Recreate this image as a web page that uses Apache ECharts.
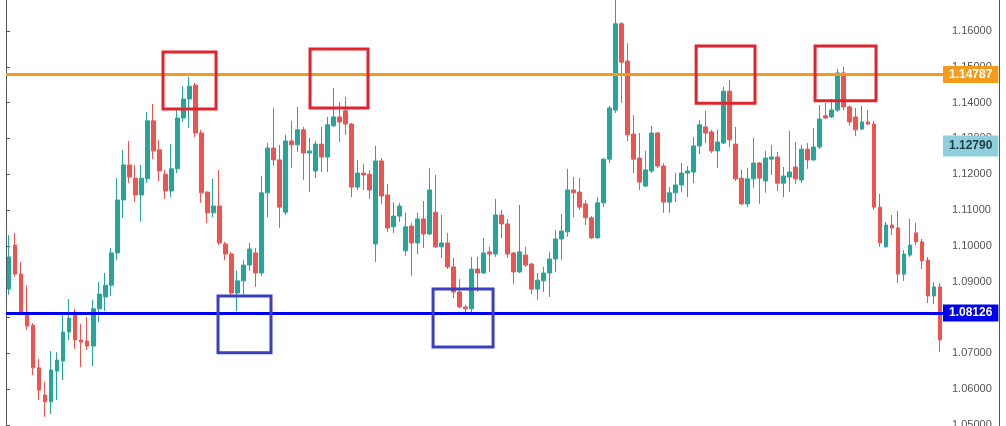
<!DOCTYPE html>
<html>
<head>
<meta charset="utf-8">
<script src="https://cdn.jsdelivr.net/npm/echarts@6/dist/echarts.min.js"></script>
<style>
  html, body { margin: 0; padding: 0; background: #ffffff; }
  #chart { width: 1006px; height: 426px; }
</style>
</head>
<body>
<div id="chart"></div>
<script>
// Candles: [open, close, low, high]
const ohlc = [
[1.0879,1.0969,1.0863,1.1030],[1.1002,1.0921,1.0913,1.1036],[1.0921,1.0812,1.0810,1.0955],[1.0812,1.0776,1.0765,1.0890],
[1.0778,1.0659,1.0639,1.0784],[1.0659,1.0597,1.0569,1.0684],[1.0583,1.0564,1.0522,1.0620],[1.0564,1.0653,1.0530,1.0706],
[1.0650,1.0681,1.0569,1.0703],[1.0678,1.0759,1.0625,1.0815],[1.0759,1.0798,1.0737,1.0851],[1.0815,1.0737,1.0712,1.0824],
[1.0737,1.0731,1.0661,1.0782],[1.0734,1.0720,1.0709,1.0801],[1.0720,1.0824,1.0664,1.0849],[1.0824,1.0865,1.0787,1.0899],
[1.0857,1.0890,1.0818,1.0924],[1.0890,1.0980,1.0860,1.0994],[1.0980,1.1128,1.0960,1.1189],[1.1128,1.1226,1.1078,1.1268],
[1.1226,1.1192,1.1175,1.1293],[1.1189,1.1142,1.1122,1.1226],[1.1142,1.1189,1.1067,1.1226],[1.1187,1.1349,1.1175,1.1374],
[1.1349,1.1265,1.1242,1.1396],[1.1268,1.1209,1.1181,1.1296],[1.1200,1.1153,1.1131,1.1212],[1.1153,1.1215,1.1136,1.1284],
[1.1215,1.1357,1.1203,1.1379],[1.1357,1.1410,1.1346,1.1446],[1.1410,1.1446,1.1329,1.1472],[1.1449,1.1315,1.1304,1.1455],
[1.1315,1.1148,1.1120,1.1324],[1.1150,1.1092,1.1064,1.1153],[1.1092,1.1111,1.1080,1.1187],[1.1111,1.1008,1.1002,1.1212],
[1.1005,1.0977,1.0960,1.1011],[1.0977,1.0868,1.0863,1.0983],[1.0868,1.0902,1.0818,1.0930],[1.0902,1.0946,1.0863,1.0960],
[1.0946,1.0991,1.0930,1.1008],[1.0980,1.0924,1.0885,1.0994],[1.0924,1.1148,1.0916,1.1195],[1.1148,1.1273,1.1080,1.1287],
[1.1273,1.1240,1.1223,1.1385],[1.1240,1.1108,1.1050,1.1282],[1.1094,1.1293,1.1086,1.1310],[1.1293,1.1282,1.1217,1.1349],
[1.1282,1.1324,1.1262,1.1388],[1.1324,1.1259,1.1184,1.1332],[1.1259,1.1265,1.1150,1.1301],[1.1209,1.1284,1.1189,1.1293],
[1.1284,1.1248,1.1206,1.1332],[1.1248,1.1338,1.1206,1.1360],[1.1335,1.1360,1.1332,1.1441],[1.1360,1.1346,1.1290,1.1402],
[1.1377,1.1340,1.1310,1.1416],[1.1340,1.1164,1.1136,1.1343],[1.1164,1.1203,1.1156,1.1240],[1.1203,1.1198,1.1156,1.1229],
[1.1200,1.1156,1.1131,1.1212],[1.1005,1.1237,1.0955,1.1279],[1.1237,1.1139,1.1117,1.1245],[1.1142,1.1050,1.1039,1.1173],
[1.1053,1.1083,1.1036,1.1122],[1.1083,1.1111,1.1067,1.1120],[1.0986,1.1053,1.0972,1.1092],[1.1055,1.1008,1.0916,1.1064],
[1.1008,1.1075,1.0977,1.1092],[1.1075,1.1033,1.0994,1.1125],[1.1033,1.1156,1.1030,1.1217],[1.1094,1.0997,1.0994,1.1198],
[1.0997,1.1008,1.0966,1.1086],[1.1008,1.0941,1.0935,1.1036],[1.0941,1.0871,1.0854,1.0966],[1.0871,1.0829,1.0826,1.0907],
[1.0829,1.0824,1.0812,1.0835],[1.0824,1.0935,1.0815,1.0969],[1.0935,1.0924,1.0871,1.0969],[1.0924,1.0980,1.0922,1.1022],
[1.0983,1.0977,1.0927,1.0997],[1.0977,1.1086,1.0969,1.1131],[1.1086,1.1061,1.1022,1.1100],[1.1061,1.0977,1.0966,1.1075],
[1.0980,1.0927,1.0893,1.0983],[1.0927,1.0983,1.0924,1.1114],[1.0974,1.0946,1.0941,1.0997],[1.0949,1.0879,1.0865,1.0952],
[1.0879,1.0904,1.0849,1.0924],[1.0902,1.0924,1.0871,1.0941],[1.0924,1.0963,1.0857,1.0983],[1.0963,1.1019,1.0927,1.1044],
[1.1019,1.1041,1.0960,1.1089],[1.1039,1.1156,1.1025,1.1215],[1.1156,1.1148,1.1080,1.1192],[1.1150,1.1108,1.1100,1.1189],
[1.1117,1.1078,1.1058,1.1128],[1.1078,1.1022,1.1019,1.1083],[1.1022,1.1120,1.1019,1.1136],[1.1120,1.1242,1.1108,1.1245],
[1.1242,1.1385,1.1231,1.1391],[1.1379,1.1620,1.1371,1.1690],[1.1620,1.1513,1.1399,1.1625],[1.1516,1.1310,1.1293,1.1566],
[1.1312,1.1242,1.1203,1.1365],[1.1245,1.1178,1.1156,1.1315],[1.1167,1.1212,1.1164,1.1265],[1.1209,1.1315,1.1203,1.1335],
[1.1315,1.1223,1.1217,1.1318],[1.1223,1.1122,1.1092,1.1231],[1.1122,1.1148,1.1092,1.1164],[1.1148,1.1170,1.1122,1.1203],
[1.1170,1.1203,1.1150,1.1231],[1.1203,1.1209,1.1136,1.1223],[1.1206,1.1279,1.1175,1.1304],[1.1279,1.1338,1.1256,1.1351],
[1.1332,1.1315,1.1287,1.1377],[1.1318,1.1265,1.1259,1.1324],[1.1265,1.1290,1.1217,1.1324],[1.1287,1.1432,1.1284,1.1444],
[1.1432,1.1296,1.1276,1.1463],[1.1284,1.1187,1.1181,1.1332],[1.1189,1.1117,1.1114,1.1212],[1.1117,1.1187,1.1108,1.1217],
[1.1187,1.1231,1.1161,1.1301],[1.1231,1.1189,1.1117,1.1234],[1.1181,1.1245,1.1148,1.1265],[1.1242,1.1248,1.1198,1.1282],
[1.1248,1.1175,1.1153,1.1262],[1.1175,1.1195,1.1136,1.1220],[1.1192,1.1206,1.1150,1.1321],[1.1220,1.1187,1.1173,1.1290],
[1.1184,1.1270,1.1175,1.1282],[1.1270,1.1240,1.1215,1.1287],[1.1240,1.1276,1.1237,1.1329],[1.1276,1.1354,1.1270,1.1393],
[1.1363,1.1357,1.1355,1.1399],[1.1360,1.1379,1.1357,1.1410],[1.1379,1.1483,1.1374,1.1494],[1.1483,1.1388,1.1379,1.1500],
[1.1388,1.1346,1.1335,1.1393],[1.1360,1.1324,1.1307,1.1385],[1.1326,1.1346,1.1324,1.1391],[1.1346,1.1340,1.1338,1.1379],
[1.1340,1.1108,1.1100,1.1349],[1.1108,1.1008,1.0997,1.1145],[1.0997,1.1058,1.0995,1.1067],[1.1058,1.1050,1.1030,1.1086],
[1.1050,1.0921,1.0896,1.1097],[1.0921,1.0977,1.0902,1.0988],[1.0974,1.1002,1.0969,1.1075],[1.1036,1.1011,1.1002,1.1064],
[1.1011,1.0958,1.0935,1.1019],[1.0960,1.0860,1.0840,1.0969],[1.0860,1.0885,1.0837,1.0899],[1.0885,1.0737,1.0703,1.0896]
];
const categories = ohlc.map((_, i) => String(i + 1));

// Horizontal levels
const resistanceLevel = 1.14787;
const supportLevel = 1.08126;
const lastPrice = 1.12790;

// Y-axis range shown
const yMin = 1.04966;
const yMax = 1.16866;
const yStep = 0.01;

// Annotation boxes: [fromCandle, toCandle, topPrice, bottomPrice] (candle index units)
const redBoxes = [
  [26.14, 34.97, 1.1541, 1.1382],
  [50.62, 60.27, 1.1550, 1.1385],
  [114.9, 124.7, 1.1558, 1.1398],
  [134.7, 144.85, 1.1558, 1.1405]
];
const blueBoxes = [
  [35.3, 44.12, 1.0860, 1.0701],
  [71.1, 81.09, 1.0879, 1.0717]
];

const UP = '#26A69A', DOWN = '#EF5350';
const ORANGE = '#F59B1B', BLUE = '#0000F0', TEAL = '#8ECFDB';

function boxSeries(boxes, color) {
  return {
    type: 'custom',
    xAxisIndex: 1,
    yAxisIndex: 0,
    silent: true,
    z: 5,
    data: boxes,
    encode: { x: [0, 1], y: [2, 3] },
    renderItem: function (params, api) {
      const p0 = api.coord([api.value(0), api.value(2)]);
      const p1 = api.coord([api.value(1), api.value(3)]);
      return {
        type: 'rect',
        shape: { x: p0[0], y: p0[1], width: p1[0] - p0[0], height: p1[1] - p0[1] },
        style: { fill: 'none', stroke: color, lineWidth: 3 }
      };
    }
  };
}

function levelLabel(bg, fg, pad) {
  return {
    show: true,
    position: 'end',
    distance: 0,
    formatter: function (p) { return Number(p.value).toFixed(5); },
    backgroundColor: bg,
    color: fg,
    fontWeight: 'bold',
    fontSize: 12,
    fontFamily: 'Liberation Sans, Arial, sans-serif',
    lineHeight: 13,
    padding: pad
  };
}

const chart = echarts.init(document.getElementById('chart'), null, { renderer: 'canvas' });
chart.setOption({
  animation: false,
  backgroundColor: '#ffffff',
  grid: { left: 6, right: 63, top: 0, bottom: 0, containLabel: false, outerBoundsMode: 'none' },
  xAxis: [
    { type: 'category', data: categories, boundaryGap: true, show: false },
    { type: 'value', min: 0, max: ohlc.length, show: false }
  ],
  yAxis: [
    {
      type: 'value', position: 'right', min: yMin, max: yMax,
      minInterval: yStep, maxInterval: yStep, splitNumber: 12,
      axisLine: { show: true, lineStyle: { color: '#555555', width: 1 } },
      axisTick: { show: true, length: 4, lineStyle: { color: '#555555' } },
      axisLabel: {
        show: true, margin: 9, color: '#555555', fontSize: 11,
        fontFamily: 'Liberation Sans, Arial, sans-serif',
        showMinLabel: false, showMaxLabel: false,
        formatter: function (v) { return v.toFixed(5); }
      },
      splitLine: { show: false }
    },
    {
      type: 'value', position: 'left', min: yMin, max: yMax,
      axisLine: { show: true, lineStyle: { color: '#555555', width: 1 } },
      axisTick: { show: false }, axisLabel: { show: false }, splitLine: { show: false }
    }
  ],
  graphic: [
    { type: 'line', shape: { x1: 999.5, y1: 0, x2: 999.5, y2: 426 }, style: { stroke: '#555555', lineWidth: 1 }, z: 10 }
  ],
  series: [
    {
      type: 'candlestick',
      xAxisIndex: 0, yAxisIndex: 0,
      data: ohlc,
      barWidth: '72%',
      itemStyle: { color: UP, color0: DOWN, borderColor: UP, borderColor0: DOWN, borderWidth: 1 },
      markLine: {
        silent: true,
        symbol: ['none', 'none'],
        precision: 5,
        animation: false,
        data: [
          { yAxis: resistanceLevel, lineStyle: { color: ORANGE, width: 3, type: 'solid' }, label: levelLabel(ORANGE, '#ffffff', [2, 6]) },
          { yAxis: supportLevel, lineStyle: { color: BLUE, width: 3, type: 'solid' }, label: levelLabel(BLUE, '#ffffff', [2, 6]) },
          { yAxis: lastPrice, lineStyle: { color: 'rgba(0,0,0,0)', width: 1 }, label: levelLabel(TEAL, '#1d3c44', [4, 6]) }
        ]
      }
    },
    boxSeries(redBoxes, '#E0242B'),
    boxSeries(blueBoxes, '#3A3FC2')
  ]
});
</script>
</body>
</html>
